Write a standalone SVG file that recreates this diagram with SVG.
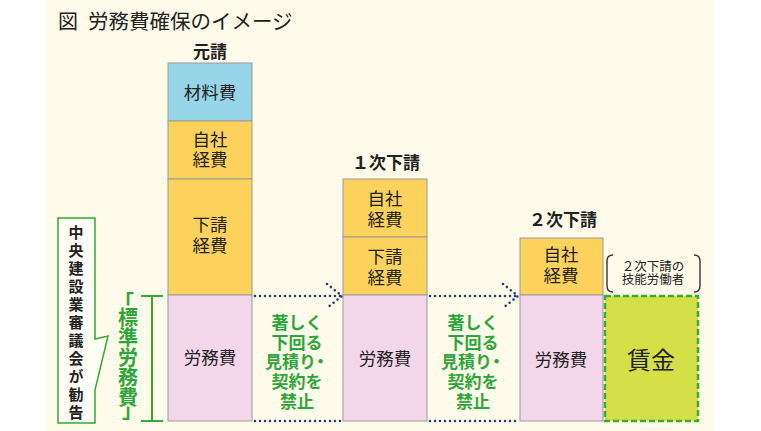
<svg xmlns="http://www.w3.org/2000/svg" width="761" height="431" viewBox="0 0 761 431">
<style>
text{font-family:"Noto Sans CJK JP","Noto Sans",sans-serif;}
.lbl{font-size:17.5px;fill:#222;text-anchor:middle;}
.hd{font-size:17px;font-weight:bold;fill:#222;text-anchor:middle;}
.box{stroke:#9a9a9a;stroke-width:1;}
.blue{fill:#96d6e8;}
.yel{fill:#fdd25c;}
.pink{fill:#f4d6ea;}
.gt{font-size:17px;font-weight:bold;fill:#2fa63a;text-anchor:middle;}
.dot{fill:none;stroke:#1f3c73;stroke-width:2.6;stroke-dasharray:0 5;stroke-linecap:round;stroke-linejoin:round;}
.vt{font-size:15px;font-weight:bold;fill:#222;writing-mode:vertical-rl;letter-spacing:3px;}
.gv{font-size:20px;font-weight:bold;fill:#2fa63a;}
</style>
<rect x="0" y="0" width="761" height="431" fill="#ffffff"/>
<rect x="47" y="0" width="666" height="431" fill="#fffbea"/>
<g id="title">
<text x="58" y="29" font-size="20" fill="#222">図</text>
<text x="88" y="29" font-size="20.5" fill="#222">労務費確保のイメージ</text>
</g>
<g id="col1">
<text class="hd" x="210" y="58">元請</text>
<rect class="box blue" x="168" y="63" width="84" height="58"/>
<text class="lbl" x="210" y="99">材料費</text>
<rect class="box yel" x="168" y="121" width="84" height="58"/>
<text class="lbl" x="210" y="146">自社<tspan x="210" dy="20">経費</tspan></text>
<rect class="box yel" x="168" y="179" width="84" height="116"/>
<text class="lbl" x="210" y="231">下請<tspan x="210" dy="21">経費</tspan></text>
<rect class="box pink" x="168" y="295" width="84" height="126"/>
<text class="lbl" x="210" y="364">労務費</text>
</g>
<g id="col2">
<text class="hd" x="386" y="169">１次下請</text>
<rect class="box yel" x="343" y="179" width="84" height="58"/>
<text class="lbl" x="385" y="205">自社<tspan x="385" dy="21">経費</tspan></text>
<rect class="box yel" x="343" y="237" width="84" height="58"/>
<text class="lbl" x="385" y="263">下請<tspan x="385" dy="21">経費</tspan></text>
<rect class="box pink" x="343" y="295" width="84" height="126"/>
<text class="lbl" x="385" y="365">労務費</text>
</g>
<g id="col3">
<text class="hd" x="563" y="226">２次下請</text>
<rect class="box yel" x="520" y="238" width="83" height="57"/>
<text class="lbl" x="561" y="261">自社<tspan x="561" dy="21">経費</tspan></text>
<rect class="box pink" x="520" y="295" width="83" height="126"/>
<text class="lbl" x="561" y="366">労務費</text>
</g>
<g id="wage">
<rect x="605" y="296" width="93" height="125" fill="#d5df48" stroke="#38ac38" stroke-width="2.5" stroke-dasharray="6 3"/>
<text x="651" y="369" font-size="24" fill="#222" text-anchor="middle">賃金</text>
<path d="M613,255 Q607,255 607,261 V286 Q607,292 613,292 M694,255 Q700,255 700,261 V286 Q700,292 694,292" fill="none" stroke="#333" stroke-width="1.4"/>
<text x="653" y="271" font-size="12.5" fill="#222" text-anchor="middle">２次下請の<tspan x="653" dy="13">技能労働者</tspan></text>
</g>
<g id="connectors">
<path class="dot" d="M255,296 H342 M327,284 L342,296 L327,308"/>
<path class="dot" d="M255,421 H343"/>
<path class="dot" d="M430,296 H518 M503,284 L518,296 L503,308"/>
<path class="dot" d="M430,421 H520"/>
</g>
<g id="note1">
<text class="gt" x="297" y="329">著しく<tspan x="297" dy="20">下回る</tspan><tspan x="297" dy="19">見積り</tspan><tspan dx="-4">・</tspan><tspan x="297" dy="20">契約を</tspan><tspan x="297" dy="20">禁止</tspan></text>
</g>
<g id="note2">
<text class="gt" x="473" y="329">著しく<tspan x="473" dy="20">下回る</tspan><tspan x="473" dy="19">見積り</tspan><tspan dx="-4">・</tspan><tspan x="473" dy="20">契約を</tspan><tspan x="473" dy="20">禁止</tspan></text>
</g>
<g id="standard">
<path d="M141,296 H163 M152,296 V421 M141,421 H163" fill="none" stroke="#35aa35" stroke-width="2"/>
<text class="gv" x="124" y="310" text-anchor="middle">「</text>
<text class="gv" x="128" y="307" style="writing-mode:vertical-rl">標準労務費</text>
<text class="gv" x="132" y="418" text-anchor="middle">」</text>
</g>
<g id="council">
<path d="M58,218 H95 V339 L108,336 L95,390 V423 H58 Z" fill="#fffef6" stroke="#35aa35" stroke-width="1.5"/>
<text class="vt" x="76" y="225">中央建設業審議会が勧告</text>
</g>
</svg>
